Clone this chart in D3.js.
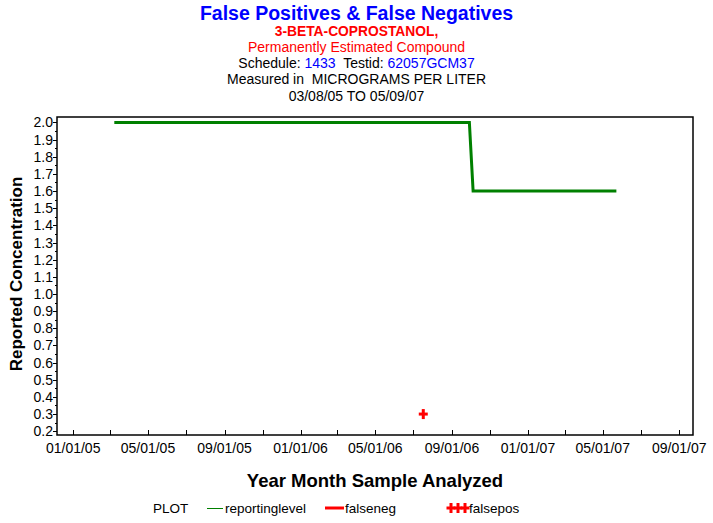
<!DOCTYPE html>
<html><head><meta charset="utf-8">
<script src="https://cdn.jsdelivr.net/npm/d3@7"></script>
<style>
body{margin:0;background:#fff;}
text{font-family:"Liberation Sans",Arial,sans-serif;}
</style></head><body>
<svg id="c" width="713" height="523"></svg>
<script>
const reportDates = ["2005-03-08","2006-09-29","2006-10-05","2007-05-23"];
const reportValues = [2.0, 2.0, 1.6, 1.6];
const falsePosDates = ["2006-07-17"];
const falsePosValues = [0.3];
const yTicks = [0.2,0.3,0.4,0.5,0.6,0.7,0.8,0.9,1.0,1.1,1.2,1.3,1.4,1.5,1.6,1.7,1.8,1.9,2.0];
const xTickLabels = ["2005-01-01","2005-05-01","2005-09-01","2006-01-01","2006-05-01","2006-09-01","2007-01-01","2007-05-01","2007-09-01"];

const parse = d3.utcParse("%Y-%m-%d");
const fmt = d3.utcFormat("%m/%d/%y");
const svg = d3.select("#c");
const L=57, R=693, T=117, B=435;

const x = d3.scaleUtc().domain([parse("2004-12-06"), parse("2007-09-23")]).range([L,R]);
const y = d3.scaleLinear().domain([0.178, 2.0315]).range([B,T]);

// titles
const titles = [
  {t:[["False Positives & False Negatives","#0000ff"]], y:20, size:19.5, bold:true},
  {t:[["3-BETA-COPROSTANOL,","#ff0000"]], y:36, size:13.8, bold:true},
  {t:[["Permanently Estimated Compound","#ff0000"]], y:52, size:14, bold:false},
  {t:[["Schedule: ","#000"],["1433","#0000ff"],["  Testid: ","#000"],["62057GCM37","#0000ff"]], y:68, size:14, bold:false},
  {t:[["Measured in  MICROGRAMS PER LITER","#000"]], y:84, size:14, bold:false},
  {t:[["03/08/05 TO 05/09/07","#000"]], y:101, size:14, bold:false}
];
titles.forEach(r=>{
  const te = svg.append("text").attr("x",356.5).attr("y",r.y).attr("text-anchor","middle")
    .attr("font-size",r.size).attr("font-weight",r.bold?"bold":"normal").attr("xml:space","preserve");
  r.t.forEach(s=>te.append("tspan").attr("fill",s[1]).text(s[0]));
});

// frame
svg.append("rect").attr("x",L).attr("y",T).attr("width",R-L).attr("height",B-T)
  .attr("fill","none").attr("stroke","#000").attr("stroke-width",1.5);

// y axis
const yMinor = d3.range(0.25,2.0,0.1);
svg.append("g").selectAll("line").data(yMinor).join("line")
  .attr("x1",L-2).attr("x2",L).attr("y1",d=>Math.round(y(d))+0.5).attr("y2",d=>Math.round(y(d))+0.5).attr("stroke","#000");
svg.append("g").selectAll("line").data(yTicks).join("line")
  .attr("x1",L-4).attr("x2",L).attr("y1",d=>Math.round(y(d))+0.5).attr("y2",d=>Math.round(y(d))+0.5).attr("stroke","#000");
svg.append("g").selectAll("text").data(yTicks).join("text")
  .attr("x",L-4).attr("y",d=>y(d)+5).attr("text-anchor","end").attr("font-size",14)
  .text(d=>d.toFixed(1));

// x axis ticks (every 2 months)
const xAll = d3.utcMonth.every(2).range(parse("2005-01-01"), parse("2007-09-02"));
svg.append("g").selectAll("line").data(xAll).join("line")
  .attr("x1",d=>Math.round(x(d))+0.5).attr("x2",d=>Math.round(x(d))+0.5)
  .attr("y1",B).attr("y2",B-5).attr("stroke","#000");
svg.append("g").selectAll("text").data(xTickLabels.map(parse)).join("text")
  .attr("x",d=>x(d)).attr("y",453).attr("text-anchor","middle").attr("font-size",14)
  .text(d=>fmt(d));

// axis titles
svg.append("text").attr("x",375).attr("y",487).attr("text-anchor","middle")
  .attr("font-size",18.5).attr("font-weight","bold").text("Year Month Sample Analyzed");
svg.append("text").attr("transform","translate(22,274) rotate(-90)").attr("text-anchor","middle")
  .attr("font-size",17).attr("font-weight","bold").text("Reported Concentration");

// reporting level line
const pts = reportDates.map((d,i)=>[parse(d),reportValues[i]]);
svg.append("path").datum(pts)
  .attr("d",d3.line().x(d=>x(d[0])).y(d=>y(d[1])))
  .attr("fill","none").attr("stroke","#008000").attr("stroke-width",3);

// false positives
const fp = falsePosDates.map((d,i)=>[parse(d),falsePosValues[i]]);
const cross = (g,cx,cy)=>{
  g.append("line").attr("x1",cx-4.5).attr("x2",cx+4.5).attr("y1",cy).attr("y2",cy).attr("stroke","#ff0000").attr("stroke-width",3);
  g.append("line").attr("x1",cx).attr("x2",cx).attr("y1",cy-5).attr("y2",cy+5).attr("stroke","#ff0000").attr("stroke-width",3);
};
const fg = svg.append("g");
fp.forEach(d=>cross(fg,x(d[0]),y(d[1])));

// legend
const ly=508;
svg.append("text").attr("x",153).attr("y",ly+5).attr("font-size",13.5).text("PLOT");
svg.append("line").attr("x1",207).attr("x2",223).attr("y1",ly+0.5).attr("y2",ly+0.5).attr("stroke","#008000").attr("stroke-width",1);
svg.append("text").attr("x",225).attr("y",ly+5).attr("font-size",13.5).text("reportinglevel");
svg.append("line").attr("x1",325).attr("x2",344).attr("y1",ly).attr("y2",ly).attr("stroke","#ff0000").attr("stroke-width",3);
svg.append("text").attr("x",345).attr("y",ly+5).attr("font-size",13.5).text("falseneg");
const lg = svg.append("g");
[451,458,465].forEach(cx=>cross(lg,cx,ly));
svg.append("text").attr("x",469).attr("y",ly+5).attr("font-size",13.5).text("falsepos");
</script>
</body></html>
